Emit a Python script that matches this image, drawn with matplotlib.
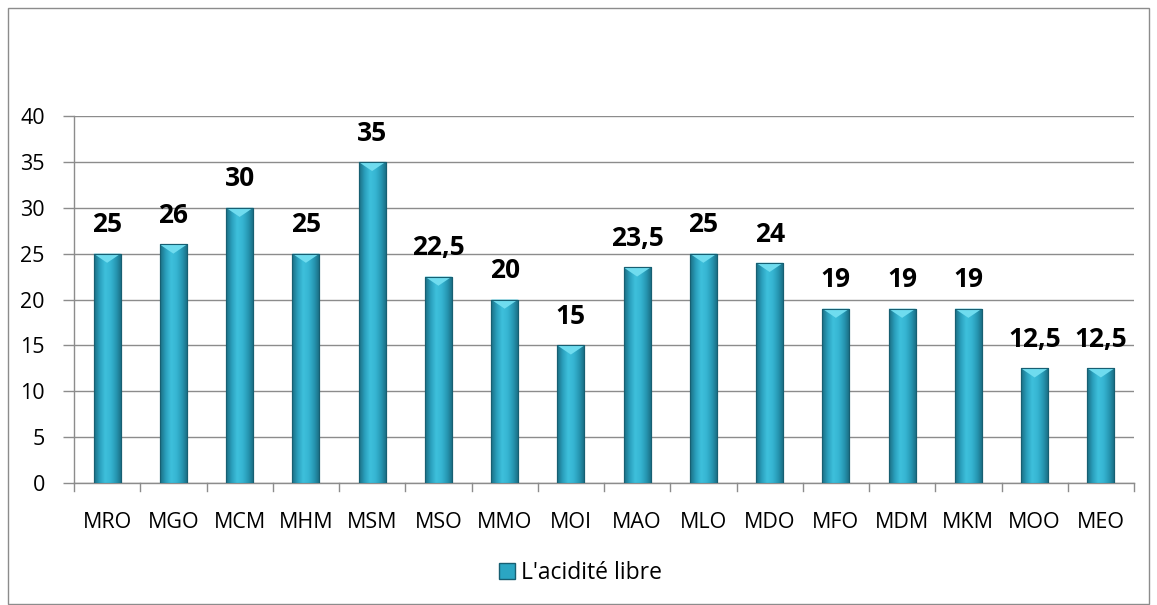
import numpy as np
import matplotlib.pyplot as plt
from matplotlib.colors import LinearSegmentedColormap
from matplotlib.patches import Polygon, Rectangle
from matplotlib.lines import Line2D

categories = ["MRO", "MGO", "MCM", "MHM", "MSM", "MSO", "MMO", "MOI",
              "MAO", "MLO", "MDO", "MFO", "MDM", "MKM", "MOO", "MEO"]
values = [25, 26, 30, 25, 35, 22.5, 20, 15, 23.5, 25, 24, 19, 19, 19, 12.5, 12.5]
series_name = "L'acidité libre"
y_ticks = [0, 5, 10, 15, 20, 25, 30, 35, 40]

plt.rcParams['font.family'] = ['Open Sans', 'DejaVu Sans']

fig = plt.figure(figsize=(11.57, 6.05), dpi=100)
ax = fig.add_axes([74 / 1157, 1 - 483 / 605, (1134 - 74) / 1157, (483 - 116) / 605])

# outer chart frame
fig.add_artist(Rectangle((8 / 1157, 0.002), 1141 / 1157, 1 - 8 / 605 - 0.002,
                         transform=fig.transFigure, fill=False,
                         edgecolor='#8c8c8c', linewidth=1.0))

x = np.arange(len(categories))
bars = ax.bar(x, values, width=0.41, color='#2ba6c3', edgecolor='#175f72',
              linewidth=0.8, zorder=3)

cmap = LinearSegmentedColormap.from_list(
    'bevel', ['#1b6e84', '#2a9fbc', '#3ec0dc', '#36b5d2', '#2697b3', '#1a6a80'])
grad = np.linspace(0, 1, 64).reshape(1, -1)

for rect, v in zip(bars, values):
    x0 = rect.get_x()
    w = rect.get_width()
    im = ax.imshow(grad, cmap=cmap, aspect='auto', interpolation='bicubic',
                   extent=(x0, x0 + w, 0, v), zorder=3.5)
    im.set_clip_path(rect)
    depth = 1.0
    tri = Polygon([(x0, v), (x0 + w, v), (x0 + w / 2, v - depth)], closed=True,
                  facecolor='#6fdcef', edgecolor='none', zorder=4)
    ax.add_patch(tri)
    ax.add_patch(Rectangle((x0, 0), w, v, fill=False, edgecolor='#175f72',
                           linewidth=0.8, zorder=4.5))
    label = ('%g' % v).replace('.', ',')
    ax.annotate(label, (rect.get_x() + w / 2, v), xytext=(0, 11),
                textcoords='offset points', ha='center', va='bottom',
                fontsize=19, fontweight='bold', color='black', zorder=5)

ax.set_xlim(-0.5, len(categories) - 0.5)
ax.set_ylim(0, 40)
ax.set_yticks(y_ticks)
ax.set_yticklabels([str(t) for t in y_ticks], fontsize=15.5)
ax.set_xticks(x)
ax.set_xticklabels(categories, fontsize=15.5)
ax.tick_params(axis='x', length=0, pad=21)
ax.tick_params(axis='y', length=8, width=1, color='#8c8c8c', pad=13)

# category boundary ticks
for b in np.arange(-0.5, len(categories), 1.0):
    ax.plot([b, b], [0, -0.022], transform=ax.get_xaxis_transform(),
            color='#8c8c8c', linewidth=1, clip_on=False, zorder=2)

ax.yaxis.grid(True, color='#8c8c8c', linewidth=1)
ax.set_axisbelow(True)
for s in ['top', 'right']:
    ax.spines[s].set_visible(False)
for s in ['left', 'bottom']:
    ax.spines[s].set_color('#8c8c8c')
    ax.spines[s].set_linewidth(1)

handle = Line2D([], [], marker='s', linestyle='none', markersize=11,
                markerfacecolor='#2ba6c3', markeredgecolor='#175f72')
fig.legend([handle], [series_name], loc='center', bbox_to_anchor=(0.5, 1 - 573 / 605),
           frameon=False, fontsize=16.5, handletextpad=0.1, handlelength=1.0)

fig.savefig('out.png', dpi=100)
